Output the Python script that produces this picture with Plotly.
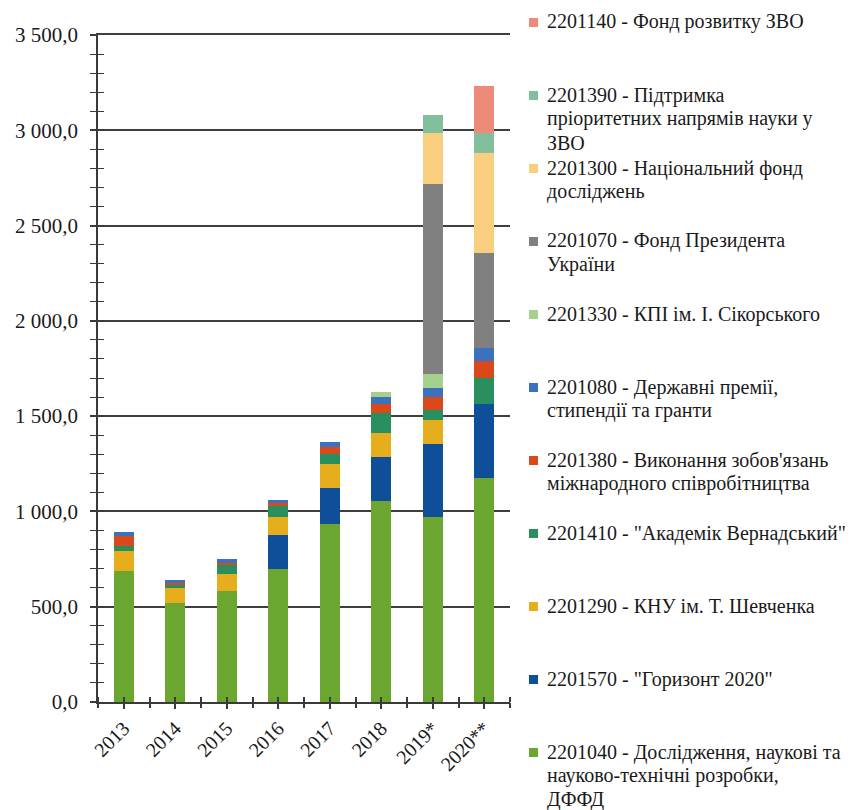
import plotly.graph_objects as go

# Years on the category axis
years = ["2013", "2014", "2015", "2016", "2017", "2018", "2019*", "2020**"]

# Budget programme codes with their (wrapped) descriptions, bottom of stack first
labels = [
    "2201040 - Дослідження, наукові та<br>науково-технічні розробки,<br>ДФФД",
    "2201570 - \"Горизонт 2020\"",
    "2201290 - КНУ ім. Т. Шевченка",
    "2201410 - \"Академік Вернадський\"",
    "2201380 - Виконання зобов'язань<br>міжнародного співробітництва",
    "2201080 - Державні премії,<br>стипендії та гранти",
    "2201330 - КПІ ім. І. Сікорського",
    "2201070 - Фонд Президента<br>України",
    "2201300 - Національний фонд<br>досліджень",
    "2201390 - Підтримка<br>пріоритетних напрямів науки у<br>ЗВО",
    "2201140 - Фонд розвитку ЗВО",
]

# Expenditure per programme, million UAH
v_2201040 = [689, 521, 582, 696, 934, 1056, 972, 1178]
v_2201570 = [0, 0, 0, 180, 190, 231, 380, 385]
v_2201290 = [103, 76, 88, 96, 125, 126, 128, 0]
v_2201410 = [25, 22, 54, 61, 52, 105, 52, 139]
v_2201380 = [56, 6, 7, 9, 39, 44, 70, 89]
v_2201080 = [17, 16, 18, 16, 26, 40, 44, 65]
v_2201330 = [0, 0, 0, 0, 0, 26, 73, 0]
v_2201070 = [0, 0, 0, 0, 0, 0, 997, 498]
v_2201300 = [0, 0, 0, 0, 0, 0, 271, 528]
v_2201390 = [0, 0, 0, 0, 0, 0, 93, 102]
v_2201140 = [0, 0, 0, 0, 0, 0, 0, 248]

series = [v_2201040, v_2201570, v_2201290, v_2201410, v_2201380, v_2201080,
          v_2201330, v_2201070, v_2201300, v_2201390, v_2201140]

colors = ["#6BA631", "#0F4E98", "#E6AE1C", "#2A8F5E", "#D9491A", "#3A72C0",
          "#A6D18C", "#808080", "#F9CF7F", "#82BF9D", "#EE8A7A"]

FONT = "Liberation Serif"
AX = "#3a3a3a"
TXT = "#1a1a1a"

fig = go.Figure()
for lab, vals, col in zip(labels, series, colors):
    fig.add_trace(go.Bar(
        x=years, y=vals, name=lab.replace("<br>", " "),
        marker=dict(color=col, line=dict(width=0)),
        showlegend=False,
    ))

# empty trace that carries the overlay axes used for the crossing tick marks
fig.add_trace(go.Scatter(x=[], y=[], xaxis="x2", yaxis="y2",
                         showlegend=False, hoverinfo="skip"))

# plot-area geometry in pixels
W, H = 855, 810
L, R, T, B = 98, 510, 35, 702


def px_x(p):
    return (p - L) / (R - L)


def px_y(p):
    return (B - p) / (B - T)


# hand-placed legend, top entry = top of stack; one annotation per text line
legend_top = 22
legend_step = 73
line_step = 23.8
for i, (lab, col) in enumerate(zip(labels[::-1], colors[::-1])):
    yc = legend_top + i * legend_step
    fig.add_shape(type="rect", xref="paper", yref="paper",
                  x0=px_x(529), x1=px_x(538), y0=px_y(yc + 5), y1=px_y(yc - 4),
                  fillcolor=col, line=dict(width=0))
    for j, part in enumerate(lab.split("<br>")):
        fig.add_annotation(xref="paper", yref="paper",
                           x=px_x(545), y=px_y(yc + j * line_step),
                           xanchor="left", yanchor="middle", align="left",
                           text=part, showarrow=False,
                           font=dict(family=FONT, size=20, color=TXT))

fig.update_layout(
    width=W, height=H,
    margin=dict(l=L, r=W - R, t=T, b=H - B, pad=0),
    paper_bgcolor="white", plot_bgcolor="white",
    barmode="stack", bargap=0.61,
    separators=", ",
    font=dict(family=FONT, size=19, color=TXT),
    xaxis=dict(
        type="category", range=[-0.5, 7.5],
        tickangle=-45, ticks="outside", ticklen=5, tickwidth=1.5, tickcolor=AX,
        showline=True, linecolor=AX, linewidth=1.5, showgrid=False,
        tickfont=dict(family=FONT, size=20, color=TXT),
    ),
    xaxis2=dict(
        overlaying="x", anchor="y", side="bottom", range=[-0.5, 7.5],
        tickmode="linear", tick0=-0.5, dtick=1,
        ticks="outside", ticklen=5, tickwidth=1.5, tickcolor=AX,
        minor=dict(tick0=-0.5, dtick=0.5, ticks="inside", ticklen=5,
                   tickwidth=1.5, tickcolor=AX),
        showticklabels=False, showgrid=False, showline=False, zeroline=False,
    ),
    # top rule at 3 500
    xaxis3=dict(
        overlaying="x", anchor="y", side="top", range=[-0.5, 7.5],
        showline=True, linecolor="#3f3f3f", linewidth=1.5,
        ticks="", showticklabels=False, showgrid=False, zeroline=False,
    ),
    yaxis=dict(
        range=[0, 3500], tickmode="linear", tick0=0, dtick=500,
        tickformat=",.1f",
        ticks="outside", ticklen=6, tickwidth=1.5, tickcolor=AX,
        minor=dict(dtick=100, ticks="outside", ticklen=6, tickwidth=1.2,
                   tickcolor=AX),
        showline=True, linecolor=AX, linewidth=1.5,
        showgrid=True, gridcolor="#3f3f3f", gridwidth=1.5,
        zeroline=False, ticklabelstandoff=8,
        tickfont=dict(family=FONT, size=21, color=TXT),
    ),
    yaxis2=dict(
        overlaying="y", anchor="x", side="left",
        range=[0, 3500], tickmode="linear", tick0=0, dtick=500,
        ticks="inside", ticklen=6, tickwidth=1.5, tickcolor=AX,
        minor=dict(dtick=100, ticks="inside", ticklen=6, tickwidth=1.2,
                   tickcolor=AX),
        showticklabels=False, showgrid=False, showline=False, zeroline=False,
    ),
)

# empty trace so the top rule axis is drawn
fig.add_trace(go.Scatter(x=[], y=[], xaxis="x3", yaxis="y",
                         showlegend=False, hoverinfo="skip"))

fig.write_html("out.html")
